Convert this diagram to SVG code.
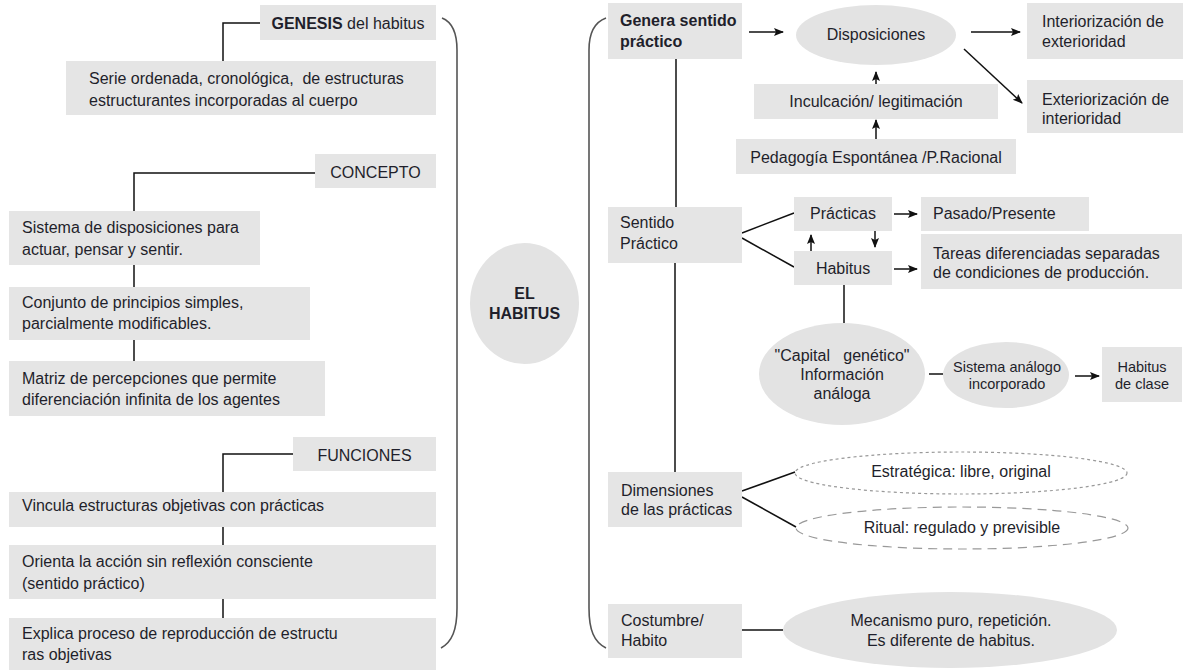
<svg xmlns="http://www.w3.org/2000/svg" width="1183" height="670" viewBox="0 0 1183 670">
<defs>
<marker id="ah" markerUnits="userSpaceOnUse" markerWidth="10" markerHeight="10" viewBox="0 0 10 10" refX="9" refY="5" orient="auto">
<path d="M0,1 L10,5 L0,9 L2,5 Z" fill="#111"/>
</marker>
<style>
text{font-family:"Liberation Sans",Arial,sans-serif;font-size:16px;fill:#1f1f2b;white-space:pre}
.b{font-weight:bold}
.c{text-anchor:middle}
.s{font-size:14.5px}
.box{fill:#e5e5e5}
.ell{fill:#e3e3e3}
.ln{stroke:#111;stroke-width:1.5;fill:none}
.ar{stroke:#111;stroke-width:1.5;fill:none;marker-end:url(#ah)}
.br{stroke:#555;stroke-width:1.6;fill:none}
.dot{fill:none;stroke:#999;stroke-width:1.2;stroke-dasharray:3 3}
.dash{fill:none;stroke:#999;stroke-width:1.2;stroke-dasharray:9 6}
</style>
</defs>
<rect width="1183" height="670" fill="#fff"/>

<g id="connectors">
<path class="br" d="M442 18 C452 22 457 32 457 50 L457 608 C457 630 452 642 441 648"/>
<path class="br" d="M606 18 C595 22 589 32 589 50 L589 608 C589 630 594 642 606 648"/>
<path class="ln" d="M260 23 H223 V61"/>
<path class="ln" d="M315 173 H134 V211"/>
<path class="ln" d="M134 265 V287"/>
<path class="ln" d="M134 340 V361"/>
<path class="ln" d="M293 454 H223 V492"/>
<path class="ln" d="M223 527 V545"/>
<path class="ln" d="M223 599 V618"/>
<path class="ar" d="M749 32 H783"/>
<path class="ar" d="M971 32 H1020"/>
<path class="ar" d="M964 49 L1022 103"/>
<path class="ar" d="M876 84 V72"/>
<path class="ar" d="M876 139 V120"/>
<path class="ln" d="M676 59 V207"/>
<path class="ln" d="M675 263 V472"/>
<path class="ln" d="M742 233 L794 213"/>
<path class="ln" d="M742 238 L794 267"/>
<path class="ar" d="M811 251 V235"/>
<path class="ar" d="M875 231 V247"/>
<path class="ar" d="M894 214 H917"/>
<path class="ar" d="M894 269 H917"/>
<path class="ln" d="M844 285 V323"/>
<path class="ln" d="M929 374 H943"/>
<path class="ar" d="M1075 376 H1099"/>
<path class="ln" d="M742 491 L795 472"/>
<path class="ln" d="M742 497 L796 527"/>
<path class="ln" d="M742 630 H783"/>
</g>

<g id="genesis"><rect class="box" x="260" y="5" width="176" height="35"/><text x="348" y="29" class="c"><tspan class="b">GENESIS</tspan> del habitus</text></g>
<g id="serie"><rect class="box" x="66" y="61" width="370" height="54"/><text x="89" y="84">Serie ordenada, cronológica,  de estructuras</text><text x="89" y="106">estructurantes incorporadas al cuerpo</text></g>
<g id="concepto"><rect class="box" x="315" y="154" width="121" height="34"/><text x="375.5" y="178" class="c">CONCEPTO</text></g>
<g id="sistema"><rect class="box" x="9" y="211" width="251" height="54"/><text x="22" y="233">Sistema de disposiciones para</text><text x="22" y="255">actuar, pensar y sentir.</text></g>
<g id="conjunto"><rect class="box" x="9" y="287" width="301" height="53"/><text x="22" y="308">Conjunto de principios simples,</text><text x="22" y="329">parcialmente modificables.</text></g>
<g id="matriz"><rect class="box" x="9" y="361" width="316" height="55"/><text x="22" y="384">Matriz de percepciones que permite</text><text x="22" y="405">diferenciación infinita de los agentes</text></g>
<g id="funciones"><rect class="box" x="293" y="437" width="143" height="34"/><text x="364.5" y="461" class="c">FUNCIONES</text></g>
<g id="vincula"><rect class="box" x="9" y="492" width="427" height="35"/><text x="22" y="511">Vincula estructuras objetivas con prácticas</text></g>
<g id="orienta"><rect class="box" x="9" y="545" width="427" height="54"/><text x="22" y="567">Orienta la acción sin reflexión consciente</text><text x="22" y="589">(sentido práctico)</text></g>
<g id="explica"><rect class="box" x="9" y="618" width="427" height="52"/><text x="22" y="639">Explica proceso de reproducción de estructu</text><text x="22" y="660">ras objetivas</text></g>

<g id="el-habitus"><ellipse class="ell" cx="524.5" cy="303.5" rx="54.5" ry="60.5"/><text x="524.5" y="299" class="c b">EL</text><text x="524.5" y="319" class="c b">HABITUS</text></g>

<g id="genera"><rect class="box" x="608" y="3" width="134" height="56"/><text x="620" y="26" class="b">Genera sentido</text><text x="620" y="47" class="b">práctico</text></g>
<g id="disposiciones"><ellipse class="ell" cx="876" cy="35" rx="80" ry="30"/><text x="876" y="40" class="c">Disposiciones</text></g>
<g id="interiorizacion"><rect class="box" x="1027" y="3" width="156" height="56"/><text x="1042" y="27">Interiorización de</text><text x="1042" y="47">exterioridad</text></g>
<g id="exteriorizacion"><rect class="box" x="1027" y="80" width="156" height="53"/><text x="1042" y="105">Exteriorización de</text><text x="1042" y="124">interioridad</text></g>
<g id="inculcacion"><rect class="box" x="754" y="84" width="244" height="35"/><text x="876" y="107" class="c">Inculcación/ legitimación</text></g>
<g id="pedagogia"><rect class="box" x="736" y="139" width="280" height="35"/><text x="876" y="163" class="c">Pedagogía Espontánea /P.Racional</text></g>

<g id="sentido"><rect class="box" x="608" y="207" width="134" height="56"/><text x="620" y="228">Sentido</text><text x="620" y="249">Práctico</text></g>
<g id="practicas"><rect class="box" x="794" y="197" width="98" height="34"/><text x="843" y="219" class="c">Prácticas</text></g>
<g id="habitus"><rect class="box" x="794" y="251" width="98" height="34"/><text x="843" y="274" class="c">Habitus</text></g>
<g id="pasado"><rect class="box" x="921" y="197" width="168" height="34"/><text x="933" y="219">Pasado/Presente</text></g>
<g id="tareas"><rect class="box" x="921" y="234" width="261" height="55"/><text x="933" y="259">Tareas diferenciadas separadas</text><text x="933" y="278">de condiciones de producción.</text></g>
<g id="capital"><ellipse class="ell" cx="842" cy="374" rx="83" ry="51"/><text x="842" y="361" class="c">"Capital   genético"</text><text x="842" y="380" class="c">Información</text><text x="842" y="399" class="c">análoga</text></g>
<g id="sistema-analogo"><ellipse class="ell" cx="1006" cy="375" rx="63" ry="33"/><text x="1007" y="372" class="c s">Sistema análogo</text><text x="1007" y="389" class="c s">incorporado</text></g>
<g id="habitus-clase"><rect class="box" x="1102" y="347" width="80" height="55"/><text x="1142" y="372" class="c s">Habitus</text><text x="1142" y="389" class="c s">de clase</text></g>

<g id="dimensiones"><rect class="box" x="608" y="472" width="134" height="55"/><text x="621" y="496">Dimensiones</text><text x="621" y="515">de las prácticas</text></g>
<g id="estrategica"><ellipse class="dot" cx="961" cy="473" rx="166" ry="21"/><text x="961" y="477" class="c">Estratégica: libre, original</text></g>
<g id="ritual"><ellipse class="dash" cx="962" cy="528" rx="166" ry="21"/><text x="962" y="533" class="c">Ritual: regulado y previsible</text></g>
<g id="costumbre"><rect class="box" x="608" y="604" width="134" height="54"/><text x="621" y="626">Costumbre/</text><text x="621" y="646">Habito</text></g>
<g id="mecanismo"><ellipse class="ell" cx="950" cy="630" rx="167" ry="38"/><text x="951" y="626" class="c">Mecanismo puro, repetición.</text><text x="951" y="646" class="c">Es diferente de habitus.</text></g>
</svg>
